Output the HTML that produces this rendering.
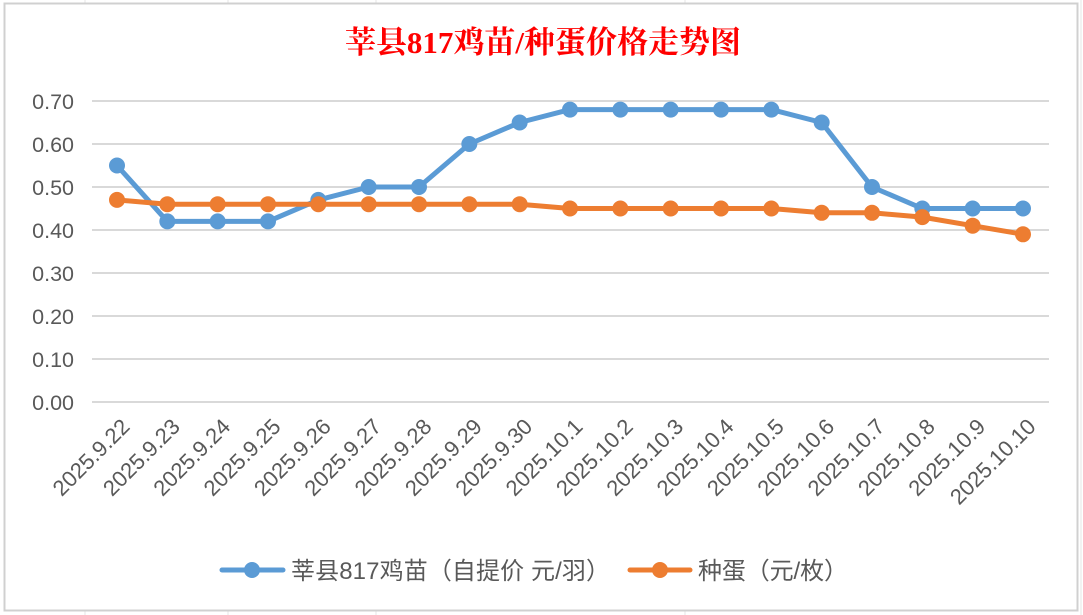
<!DOCTYPE html>
<html><head><meta charset="utf-8"><style>
html,body{margin:0;padding:0;background:#fff;}
svg{display:block}
</style></head><body>
<svg width="1083" height="615" xmlns="http://www.w3.org/2000/svg">
<rect x="0" y="0" width="1083" height="615" fill="#fff"/>
<g stroke="#e4e4e4" stroke-width="1">
<line x1="85" y1="0" x2="85" y2="615"/><line x1="228" y1="0" x2="228" y2="615"/><line x1="376" y1="0" x2="376" y2="615"/><line x1="685" y1="0" x2="685" y2="615"/><line x1="1081" y1="0" x2="1081" y2="615"/>
</g>
<rect x="4.5" y="3.5" width="1073" height="607" fill="#fff" stroke="#d0d0d0" stroke-width="2"/>
<text x="543" y="53" text-anchor="middle" font-family="'Liberation Serif','Noto Serif CJK SC',serif" font-size="31" font-weight="bold" fill="#ff0000">莘县817鸡苗/种蛋价格走势图</text>
<g stroke="#d9d9d9" stroke-width="2">
<line x1="92" y1="101" x2="1049" y2="101"/><line x1="92" y1="144" x2="1049" y2="144"/><line x1="92" y1="187" x2="1049" y2="187"/><line x1="92" y1="230" x2="1049" y2="230"/><line x1="92" y1="273" x2="1049" y2="273"/><line x1="92" y1="316" x2="1049" y2="316"/><line x1="92" y1="359" x2="1049" y2="359"/><line x1="92" y1="402" x2="1049" y2="402"/>
</g>
<g font-family="'Liberation Sans',sans-serif" font-size="21.5" fill="#595959" text-anchor="end">
<text x="74" y="109">0.70</text><text x="74" y="152">0.60</text><text x="74" y="195">0.50</text><text x="74" y="238">0.40</text><text x="74" y="281">0.30</text><text x="74" y="324">0.20</text><text x="74" y="367">0.10</text><text x="74" y="410">0.00</text>
</g>
<g id="lbl" font-family="'Liberation Sans',sans-serif" font-size="22" fill="#595959" text-anchor="end"></g>
<polyline id="pb" fill="none" stroke="#5b9bd5" stroke-width="5" stroke-linejoin="round"/>
<polyline id="po" fill="none" stroke="#ed7d31" stroke-width="5" stroke-linejoin="round"/>
<g id="mb" fill="#5b9bd5"></g>
<g id="mo" fill="#ed7d31"></g>
<line x1="222" y1="570" x2="283" y2="570" stroke="#5b9bd5" stroke-width="5" stroke-linecap="round"/>
<circle cx="252" cy="570" r="8" fill="#5b9bd5"/>
<text x="291" y="579" font-family="'Liberation Sans','Noto Sans CJK SC',sans-serif" font-size="24" fill="#595959" textLength="319">莘县817鸡苗（自提价 元/羽）</text>
<line x1="630" y1="570" x2="690" y2="570" stroke="#ed7d31" stroke-width="5" stroke-linecap="round"/>
<circle cx="660" cy="570" r="8" fill="#ed7d31"/>
<text x="698" y="579" font-family="'Liberation Sans','Noto Sans CJK SC',sans-serif" font-size="24" fill="#595959" textLength="150">种蛋（元/枚）</text>
<script>
var labels=["2025.9.22","2025.9.23","2025.9.24","2025.9.25","2025.9.26","2025.9.27","2025.9.28","2025.9.29","2025.9.30","2025.10.1","2025.10.2","2025.10.3","2025.10.4","2025.10.5","2025.10.6","2025.10.7","2025.10.8","2025.10.9","2025.10.10"];
var b=[.55,.42,.42,.42,.47,.50,.50,.60,.65,.68,.68,.68,.68,.68,.65,.50,.45,.45,.45];
var o=[.47,.46,.46,.46,.46,.46,.46,.46,.46,.45,.45,.45,.45,.45,.44,.44,.43,.41,.39];
var ns="http://www.w3.org/2000/svg";
function X(i){return 117+i*(1023-117)/18;}
function Y(v){return 402-v*430;}
var pb=[],po=[];
for(var i=0;i<19;i++){
 pb.push(X(i)+","+Y(b[i]));po.push(X(i)+","+Y(o[i]));
 var c=document.createElementNS(ns,"circle");c.setAttribute("cx",X(i));c.setAttribute("cy",Y(b[i]));c.setAttribute("r",8);document.getElementById("mb").appendChild(c);
 c=document.createElementNS(ns,"circle");c.setAttribute("cx",X(i));c.setAttribute("cy",Y(o[i]));c.setAttribute("r",8);document.getElementById("mo").appendChild(c);
 var t=document.createElementNS(ns,"text");t.setAttribute("transform","translate("+(X(i)+14)+",428) rotate(-45)");t.textContent=labels[i];document.getElementById("lbl").appendChild(t);
}
document.getElementById("pb").setAttribute("points",pb.join(" "));
document.getElementById("po").setAttribute("points",po.join(" "));
</script>
</svg>
</body></html>
